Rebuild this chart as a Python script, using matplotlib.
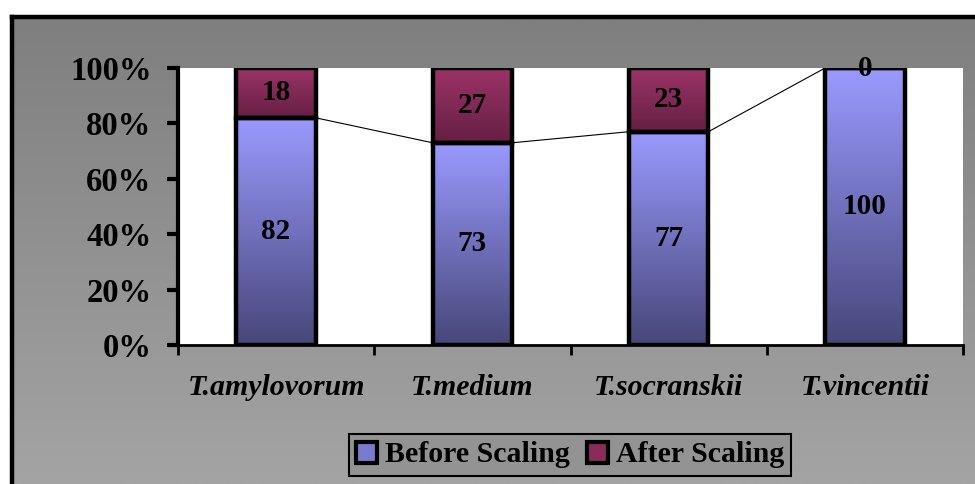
import numpy as np
import matplotlib
matplotlib.use("Agg")
import matplotlib.pyplot as plt
from matplotlib.colors import LinearSegmentedColormap
from matplotlib.patches import Patch

categories = ["T.amylovorum", "T.medium", "T.socranskii", "T.vincentii"]
before_scaling = [82, 73, 77, 100]
after_scaling = [18, 27, 23, 0]
yticks = [0, 20, 40, 60, 80, 100]
ytick_labels = ["0%", "20%", "40%", "60%", "80%", "100%"]

serif = "Liberation Serif"
W, H = 975, 484
fig = plt.figure(figsize=(W / 100, H / 100), dpi=100)
fig.patch.set_facecolor("white")

# background panel with a vertical grey gradient and the black frame
bg = fig.add_axes([0, 0, 1, 1], zorder=-10)
bg.axis("off")
grey = LinearSegmentedColormap.from_list("grey", ["#7f7f7f", "#a4a4a4"])
grad = np.linspace(0, 1, 256).reshape(-1, 1)
bg.imshow(grad, cmap=grey, extent=[14, W, H, 19], origin="upper", aspect="auto")
bg.plot([12, 12], [17, H], color="black", lw=3.2, solid_capstyle="projecting")
bg.plot([12, W], [17, 17], color="black", lw=3.2, solid_capstyle="projecting")
bg.set_xlim(0, W)
bg.set_ylim(H, 0)

ax = fig.add_axes([178 / W, 1 - 345 / H, (963 - 178) / W, (345 - 68) / H])
ax.set_facecolor("white")

x = np.arange(len(categories))
width = 0.405
blue = LinearSegmentedColormap.from_list("blue", ["#9a9aff", "#47477a"])
red = LinearSegmentedColormap.from_list("red", ["#9b3467", "#661f43"])

b1 = ax.bar(x, before_scaling, width, facecolor="none", edgecolor="black", lw=3.2, zorder=3)
b2 = ax.bar(x, after_scaling, width, bottom=before_scaling, facecolor="none",
            edgecolor="black", lw=3.2, zorder=3)

# gradient fill of every segment, clipped to the bar rectangle
for bars, cm in ((b1, blue), (b2, red)):
    for r in bars:
        bx, by, bw, bh = r.get_x(), r.get_y(), r.get_width(), r.get_height()
        if bh <= 0:
            continue
        im = ax.imshow(grad, cmap=cm, extent=[bx, bx + bw, by, by + bh],
                       origin="upper", aspect="auto", zorder=2)
        im.set_clip_path(r)

# series lines between the tops of the "before" segments
for i in range(len(categories) - 1):
    ax.plot([x[i] + width / 2, x[i + 1] - width / 2],
            [before_scaling[i], before_scaling[i + 1]], color="black", lw=0.8, zorder=1)

# value labels
for i in range(len(categories)):
    ax.text(x[i], before_scaling[i] / 2, str(before_scaling[i]), ha="center", va="center",
            fontfamily=serif, fontweight="bold", fontsize=21, zorder=4)
    ax.text(x[i], before_scaling[i] + after_scaling[i] / 2, str(after_scaling[i]),
            ha="center", va="center", fontfamily=serif, fontweight="bold", fontsize=21, zorder=4)

ax.set_xlim(-0.5, len(categories) - 0.5)
ax.set_ylim(0, 100)
ax.set_yticks(yticks)
ax.set_yticklabels(ytick_labels, fontfamily=serif, fontweight="bold", fontsize=23.5)
ax.tick_params(axis="y", direction="out", length=8, width=3, pad=11)
ax.set_xticks(x)
ax.set_xticklabels(categories, fontfamily=serif, fontweight="bold", fontstyle="italic", fontsize=21.5)
ax.tick_params(axis="x", which="major", length=0, pad=21)
ax.set_xticks(np.arange(len(categories) + 1) - 0.5, minor=True)
ax.tick_params(axis="x", which="minor", direction="out", length=7, width=2)

for s in ("top", "right"):
    ax.spines[s].set_visible(False)
ax.spines["left"].set_linewidth(3)
ax.spines["bottom"].set_linewidth(2)

handles = [Patch(facecolor="#7a7ad0", edgecolor="black", lw=3, label="Before Scaling"),
           Patch(facecolor="#8a2b5a", edgecolor="black", lw=3, label="After Scaling")]
leg = fig.legend(handles=handles, loc="center", bbox_to_anchor=(570 / W, 1 - 455 / H), ncol=2,
                 prop={"family": serif, "weight": "bold", "size": 21.5}, frameon=True,
                 fancybox=False, edgecolor="black", facecolor="#939393", framealpha=1,
                 handlelength=0.7, handleheight=0.7, handletextpad=0.25, columnspacing=0.6,
                 borderpad=0.25, borderaxespad=0)
leg.get_frame().set_linewidth(1.5)

fig.savefig("out.png", dpi=100)
